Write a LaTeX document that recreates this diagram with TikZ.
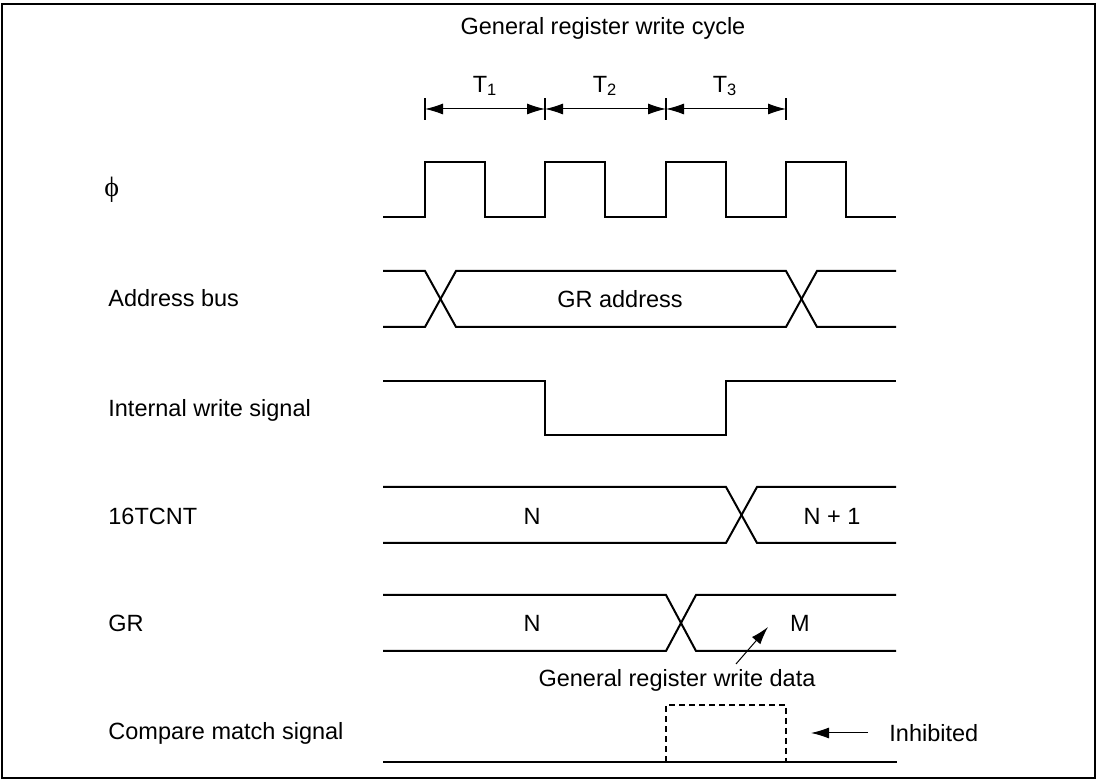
\documentclass[tikz,border=0pt]{standalone}
\usepackage{fontspec}
\setmainfont{Liberation Sans}
\newfontfamily\phifont{Liberation Serif}
\usetikzlibrary{arrows.meta, positioning}
\newcommand{\txtfont}{\fontsize{11.75}{14}\selectfont}
\definecolor{inkcolor}{rgb}{0.0, 0.0, 0.0}
\tikzset{wave/.style={draw=inkcolor, line width=1pt, line join=miter}}
\tikzset{signame/.style={anchor=west, inner sep=0pt, text=inkcolor, font=\txtfont}}
\tikzset{value/.style={inner sep=0pt, text=inkcolor, font=\txtfont}}
\tikzset{dim/.style={draw=inkcolor, line width=0.5pt, {Latex[length=9pt,width=5.5pt]}-{Latex[length=9pt,width=5.5pt]}}}
\tikzset{pointer/.style={draw=inkcolor, line width=0.5pt, -{Latex[length=9pt,width=5.5pt]}}}

\begin{document}
\begin{tikzpicture}[x=0.5pt, y=-0.5pt]
	\useasboundingbox (0,0) rectangle (1100,780);
	\draw[line width=1pt] (2,4) rectangle (1095,778);
	
	%%% NODES %%%
	
	% TITLE AND CYCLES
	\node[value] at (603,28) (title) {General register write cycle};
	\node[value] at (485,86) (tone) {T\textsubscript{1}};
	\node[value] at (605,86) (ttwo) {T\textsubscript{2}};
	\node[value] at (725,86) (tthree) {T\textsubscript{3}};
	
	% SIGNAL NAMES
	\node[signame, font=\phifont\fontsize{14}{16}\selectfont] at (104,190) (phi) {ϕ};
	\node[signame] at (108,298) (addrbus) {Address bus};
	\node[signame] at (108,410) (wrsignal) {Internal write signal};
	\node[signame] at (108,516) (tcnt) {16TCNT};
	\node[signame] at (108,623) (gr) {GR};
	\node[signame] at (108,733) (cmpmatch) {Compare match signal};
	
	% VALUES
	\node[value] at (620,299) (graddr) {GR address};
	\node[value] at (532,516) (tcntn) {N};
	\node[value] at (832,516) (tcntnext) {N + 1};
	\node[value] at (532,623) (grn) {N};
	\node[value] at (800,623) (grm) {M};
	\node[value] at (677,680) (wrdata) {General register write data};
	\node[signame] at (889,733) (inhibited) {Inhibited};
	
	%%% EXTRA ARROW NODES %%%
	\coordinate (t0) at (425,109);
	\coordinate (t1) at (545,109);
	\coordinate (t2) at (666,109);
	\coordinate (t3) at (786,109);
	\coordinate (e0) at (736,664);
	\coordinate (e1) at (768,627);
	\coordinate (e2) at (868,733);
	\coordinate (e3) at (811,733);
	
	%%% WAVES %%%
	
	% PHI
	\draw[wave] (383,217) foreach \t in {425,545,666,786} { -- (\t,217) -- (\t,162) -- (\t+60,162) -- (\t+60,217) } -- (896,217);
	
	% ADDRESS BUS
	\draw[wave] (383,271) -- (425,271) -- (456,327) -- (786,327) -- (817,271) -- (896,271);
	\draw[wave] (383,327) -- (425,327) -- (456,271) -- (786,271) -- (817,327) -- (896,327);
	
	% INTERNAL WRITE
	\draw[wave] (383,381) -- (545,381) -- (545,435) -- (726,435) -- (726,381) -- (896,381);
	
	% 16TCNT
	\draw[wave] (383,487) -- (726,487) -- (757,543) -- (896,543);
	\draw[wave] (383,543) -- (726,543) -- (757,487) -- (896,487);
	
	% GR
	\draw[wave] (383,595) -- (666,595) -- (696,651) -- (896,651);
	\draw[wave] (383,651) -- (666,651) -- (696,595) -- (896,595);
	
	% COMPARE MATCH
	\draw[wave] (383,762) -- (897,762);
	\draw[wave, dash pattern=on 3pt off 2pt] (666,762) -- (666,705) -- (786,705) -- (786,762);
	
	%%% ARROWS %%%
	\foreach \c in {t0,t1,t2,t3}
		\draw[line width=0.75pt] ([yshift=-5.5pt]\c) -- ([yshift=5.5pt]\c);
	\draw[dim] (t0) -- (t1);
	\draw[dim] (t1) -- (t2);
	\draw[dim] (t2) -- (t3);
	\draw[pointer] (e0) -- (e1);
	\draw[pointer] (e2) -- (e3);
	
\end{tikzpicture}
\end{document}
